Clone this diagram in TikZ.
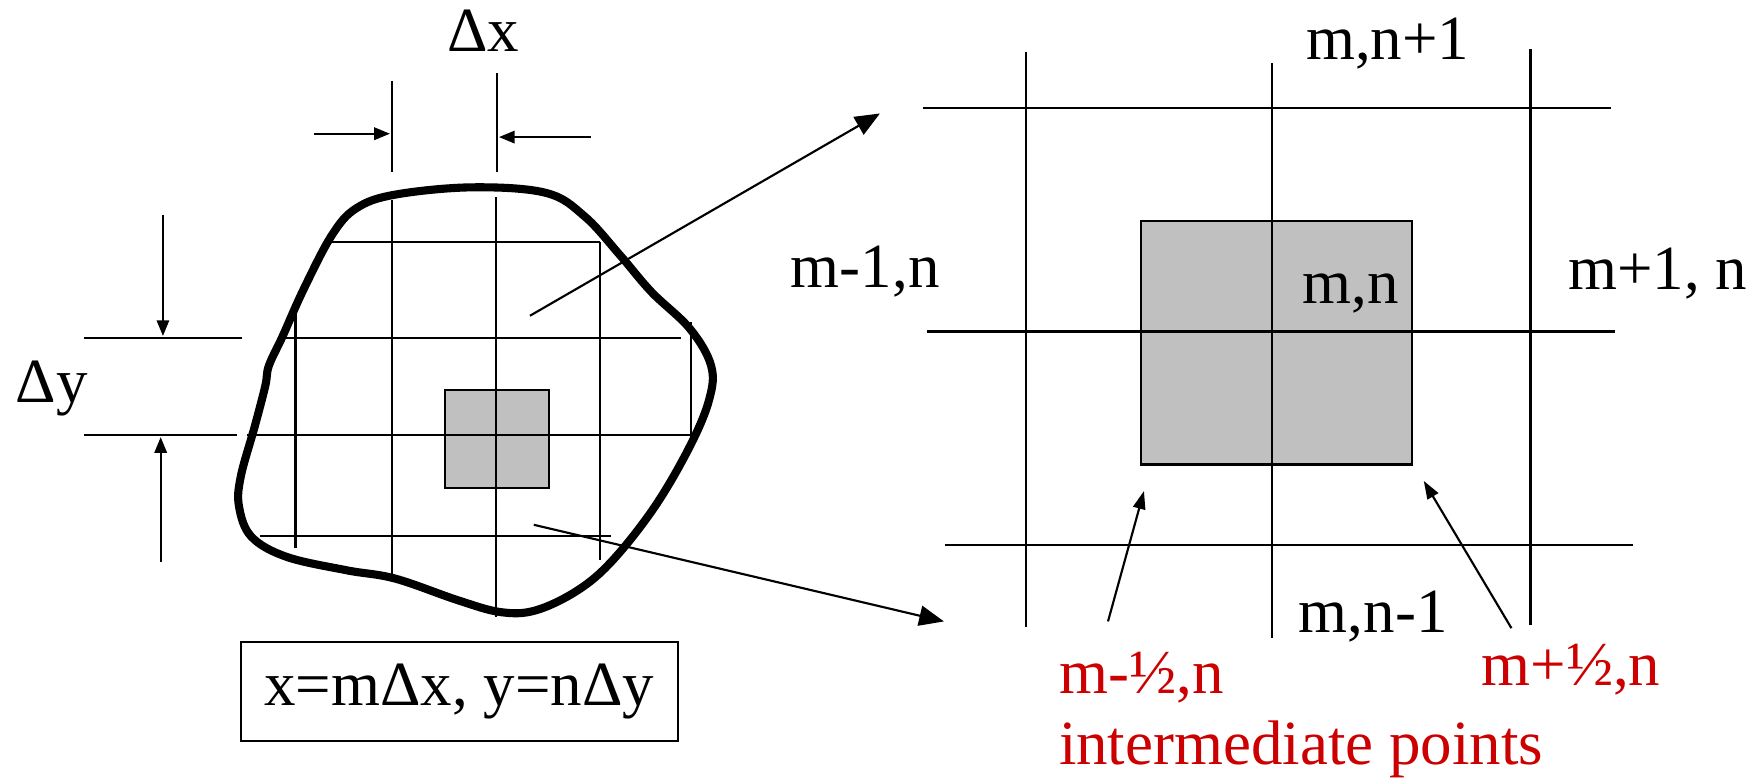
\documentclass[tikz,border=0pt]{standalone}
\usepackage{fontspec}
\setmainfont{Liberation Serif}
\usetikzlibrary{arrows.meta}
\definecolor{lblred}{RGB}{204,0,0}
\definecolor{cellgrey}{RGB}{192,192,192}
\begin{document}
\begin{tikzpicture}[x=0.5pt,y=-0.5pt,
  gridline/.style={line width=0.95pt},
  blobline/.style={line width=3.6pt,line join=round},
  dimarrow/.style={line width=0.95pt,-{Triangle[length=7pt,width=5.5pt]}},
  bigarrow/.style={line width=0.95pt,-{Triangle[length=11pt,width=9pt]}},
  ptarrow/.style={line width=0.95pt,-{Triangle[length=8pt,width=5.5pt]}},
  lbl/.style={font=\fontsize{28}{32}\selectfont,inner sep=0pt,anchor=base},
  redlbl/.style={lbl,text=lblred}]
\useasboundingbox (0,0) rectangle (1568,694);
% ---------- left figure ----------
\fill[cellgrey,draw=black,line width=0.95pt] (395.7,347.2) rectangle (488.5,434.3);
\draw[gridline] (293.9,215) -- (533.8,215);
\draw[gridline] (252.7,301) -- (605.6,301);
\draw[gridline] (219.9,387) -- (614,387);
\draw[gridline] (231.5,477) -- (543.8,477);
\draw[gridline] (263,274.7) -- (263,488);
\draw[gridline] (348.6,177.7) -- (348.6,511.9);
\draw[gridline] (441.6,175.3) -- (441.6,549.2);
\draw[gridline] (533.8,215) -- (533.8,498.5);
\draw[gridline] (615,286.6) -- (615,401.5);
% ticks and outer dimension lines
\draw[gridline] (349,72) -- (349,153);
\draw[gridline] (442,65) -- (442,153);
\draw[gridline] (75,301) -- (215,301);
\draw[gridline] (75,387) -- (211,387);
% dimension arrows
\coordinate (dxa) at (279,119); \coordinate (dxb) at (347,119);
\coordinate (dxc) at (526,122); \coordinate (dxd) at (444,122);
\coordinate (dya) at (145,191); \coordinate (dyb) at (145,299);
\coordinate (dyc) at (143,500); \coordinate (dyd) at (143,389);
\draw[dimarrow] (dxa) -- (dxb);
\draw[dimarrow] (dxc) -- (dxd);
\draw[dimarrow] (dya) -- (dyb);
\draw[dimarrow] (dyc) -- (dyd);
% blob
\draw[blobline] plot[smooth cycle,tension=0.6] coordinates {
 (420.4,166.7) (486,171.7) (520.3,192.6) (551.6,226.9) (579.7,259.8)
 (614,292.6) (632.8,325.4) (631.2,355.2) (614,397) (582.8,450.7)
 (545.3,498.5) (514.1,525.3) (476.6,543.2) (445.4,544.7) (407.9,534.3)
 (351.7,514.9) (308,507.4) (254.9,495.5) (223.7,477.6) (212.7,450.7)
 (214.3,423.9) (226.8,379.1) (236.1,343.3) (239.3,325.4) (251.8,298.6)
 (270.5,256.8) (295.5,209) (317.3,185.2) (351.7,173.2)};
% labels
\node[lbl] (dxl) at (430,46) {Δx};
\node[lbl] (dyl) at (46,358) {Δy};
\node[lbl,draw,line width=0.95pt,minimum width=194.5pt,minimum height=44pt,anchor=center] (eq) at (408.7,615.4) {x=mΔx, y=nΔy};
% connecting arrows
\coordinate (ua) at (471.6,281); \coordinate (ub) at (783,101);
\coordinate (la) at (475,467); \coordinate (lb) at (840,553);
\draw[bigarrow] (ua) -- (ub);
\draw[bigarrow] (la) -- (lb);
% ---------- right figure ----------
\fill[cellgrey,draw=black,line width=0.95pt] (1015.2,196.4) rectangle (1256.3,413.3);
\draw[gridline] (821,96) -- (1434,96);
\draw[gridline] (824.5,295) -- (1437,295);
\draw[gridline] (840.6,485) -- (1453,485);
\draw[gridline] (913,46) -- (913,558);
\draw[gridline] (1132,56) -- (1132,568);
\draw[gridline] (1362,44) -- (1362,556);
\node[lbl] (top) at (1235,53) {m,n+1};
\node[lbl] (left) at (770,256) {m-1,n};
\node[lbl] (mid) at (1202,270) {m,n};
\node[lbl] (right) at (1475,258) {m+1, n};
\node[lbl] (bot) at (1222,563) {m,n-1};
\node[redlbl] (mh) at (1016,617) {m-½,n};
\node[redlbl] (ph) at (1398,610) {m+½,n};
\node[redlbl,anchor=base west] (ip) at (942,680) {intermediate points};
\coordinate (ma) at (986,553); \coordinate (mb) at (1018,437);
\coordinate (pa) at (1345,559); \coordinate (pb) at (1267,428);
\draw[ptarrow] (ma) -- (mb);
\draw[ptarrow] (pa) -- (pb);
\end{tikzpicture}
\end{document}
